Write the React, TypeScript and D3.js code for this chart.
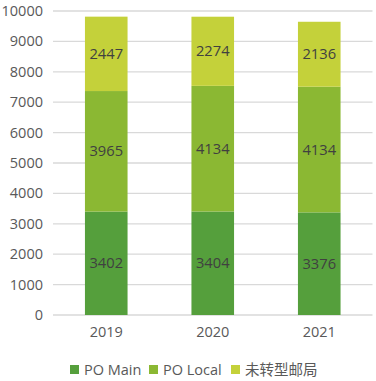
import React from "react";
import * as d3 from "d3";

const years = ["2019", "2020", "2021"];
const poMain = [3402, 3404, 3376];
const poLocal = [3965, 4134, 4134];
const unconverted = [2447, 2274, 2136];
const seriesNames = ["PO Main", "PO Local", "未转型邮局"];
const colors = ["#559F3C", "#8BB833", "#C4D13A"];
const yTicks = [0, 1000, 2000, 3000, 4000, 5000, 6000, 7000, 8000, 9000, 10000];

const W = 376, H = 381;
const left = 53, right = 372.5, top = 11, bottom = 315;
const font = "'Open Sans', 'Noto Sans CJK SC', sans-serif";

export default function App() {
  const x = d3.scaleBand().domain(years).range([left, right]).paddingInner(0.6).paddingOuter(0.3);
  const y = d3.scaleLinear().domain([0, 10000]).range([bottom, top]);
  const rows = years.map((yr, i) => ({ year: yr, a: poMain[i], b: poLocal[i], c: unconverted[i] }));
  const stack = d3.stack<any>().keys(["a", "b", "c"])(rows);
  const legendX = [70, 149, 231];
  return (
    <svg width={W} height={H} style={{ position: "absolute", left: 0, top: 0 }} fontFamily={font}>
      {yTicks.map((t) => (
        <g key={t}>
          <line x1={left} x2={right} y1={y(t)} y2={y(t)} stroke="#D9D9D9" strokeWidth={1.3} />
          <text x={43} y={y(t)} dy="0.35em" textAnchor="end" fontSize={14.5} fill="#595959">{t}</text>
        </g>
      ))}
      {stack.map((s, si) => (
        <g key={si}>
          {s.map((d, i) => (
            <g key={i}>
              <rect x={x(years[i])} width={x.bandwidth()} y={y(d[1])} height={y(d[0]) - y(d[1])} fill={colors[si]} />
              <text x={x(years[i])! + x.bandwidth() / 2} y={(y(d[0]) + y(d[1])) / 2} dy="0.35em" textAnchor="middle" fontSize={14.7} fill="#404040">
                {d[1] - d[0]}
              </text>
            </g>
          ))}
        </g>
      ))}
      {years.map((yr) => (
        <text key={yr} x={x(yr)! + x.bandwidth() / 2} y={332} dy="0.35em" textAnchor="middle" fontSize={14.5} fill="#595959">{yr}</text>
      ))}
      {seriesNames.map((n, i) => (
        <g key={n}>
          <rect x={legendX[i]} y={365} width={9} height={9} fill={colors[i]} />
          <text x={legendX[i] + 14} y={370} dy="0.35em" fontSize={14.5} fill="#595959">{n}</text>
        </g>
      ))}
    </svg>
  );
}
